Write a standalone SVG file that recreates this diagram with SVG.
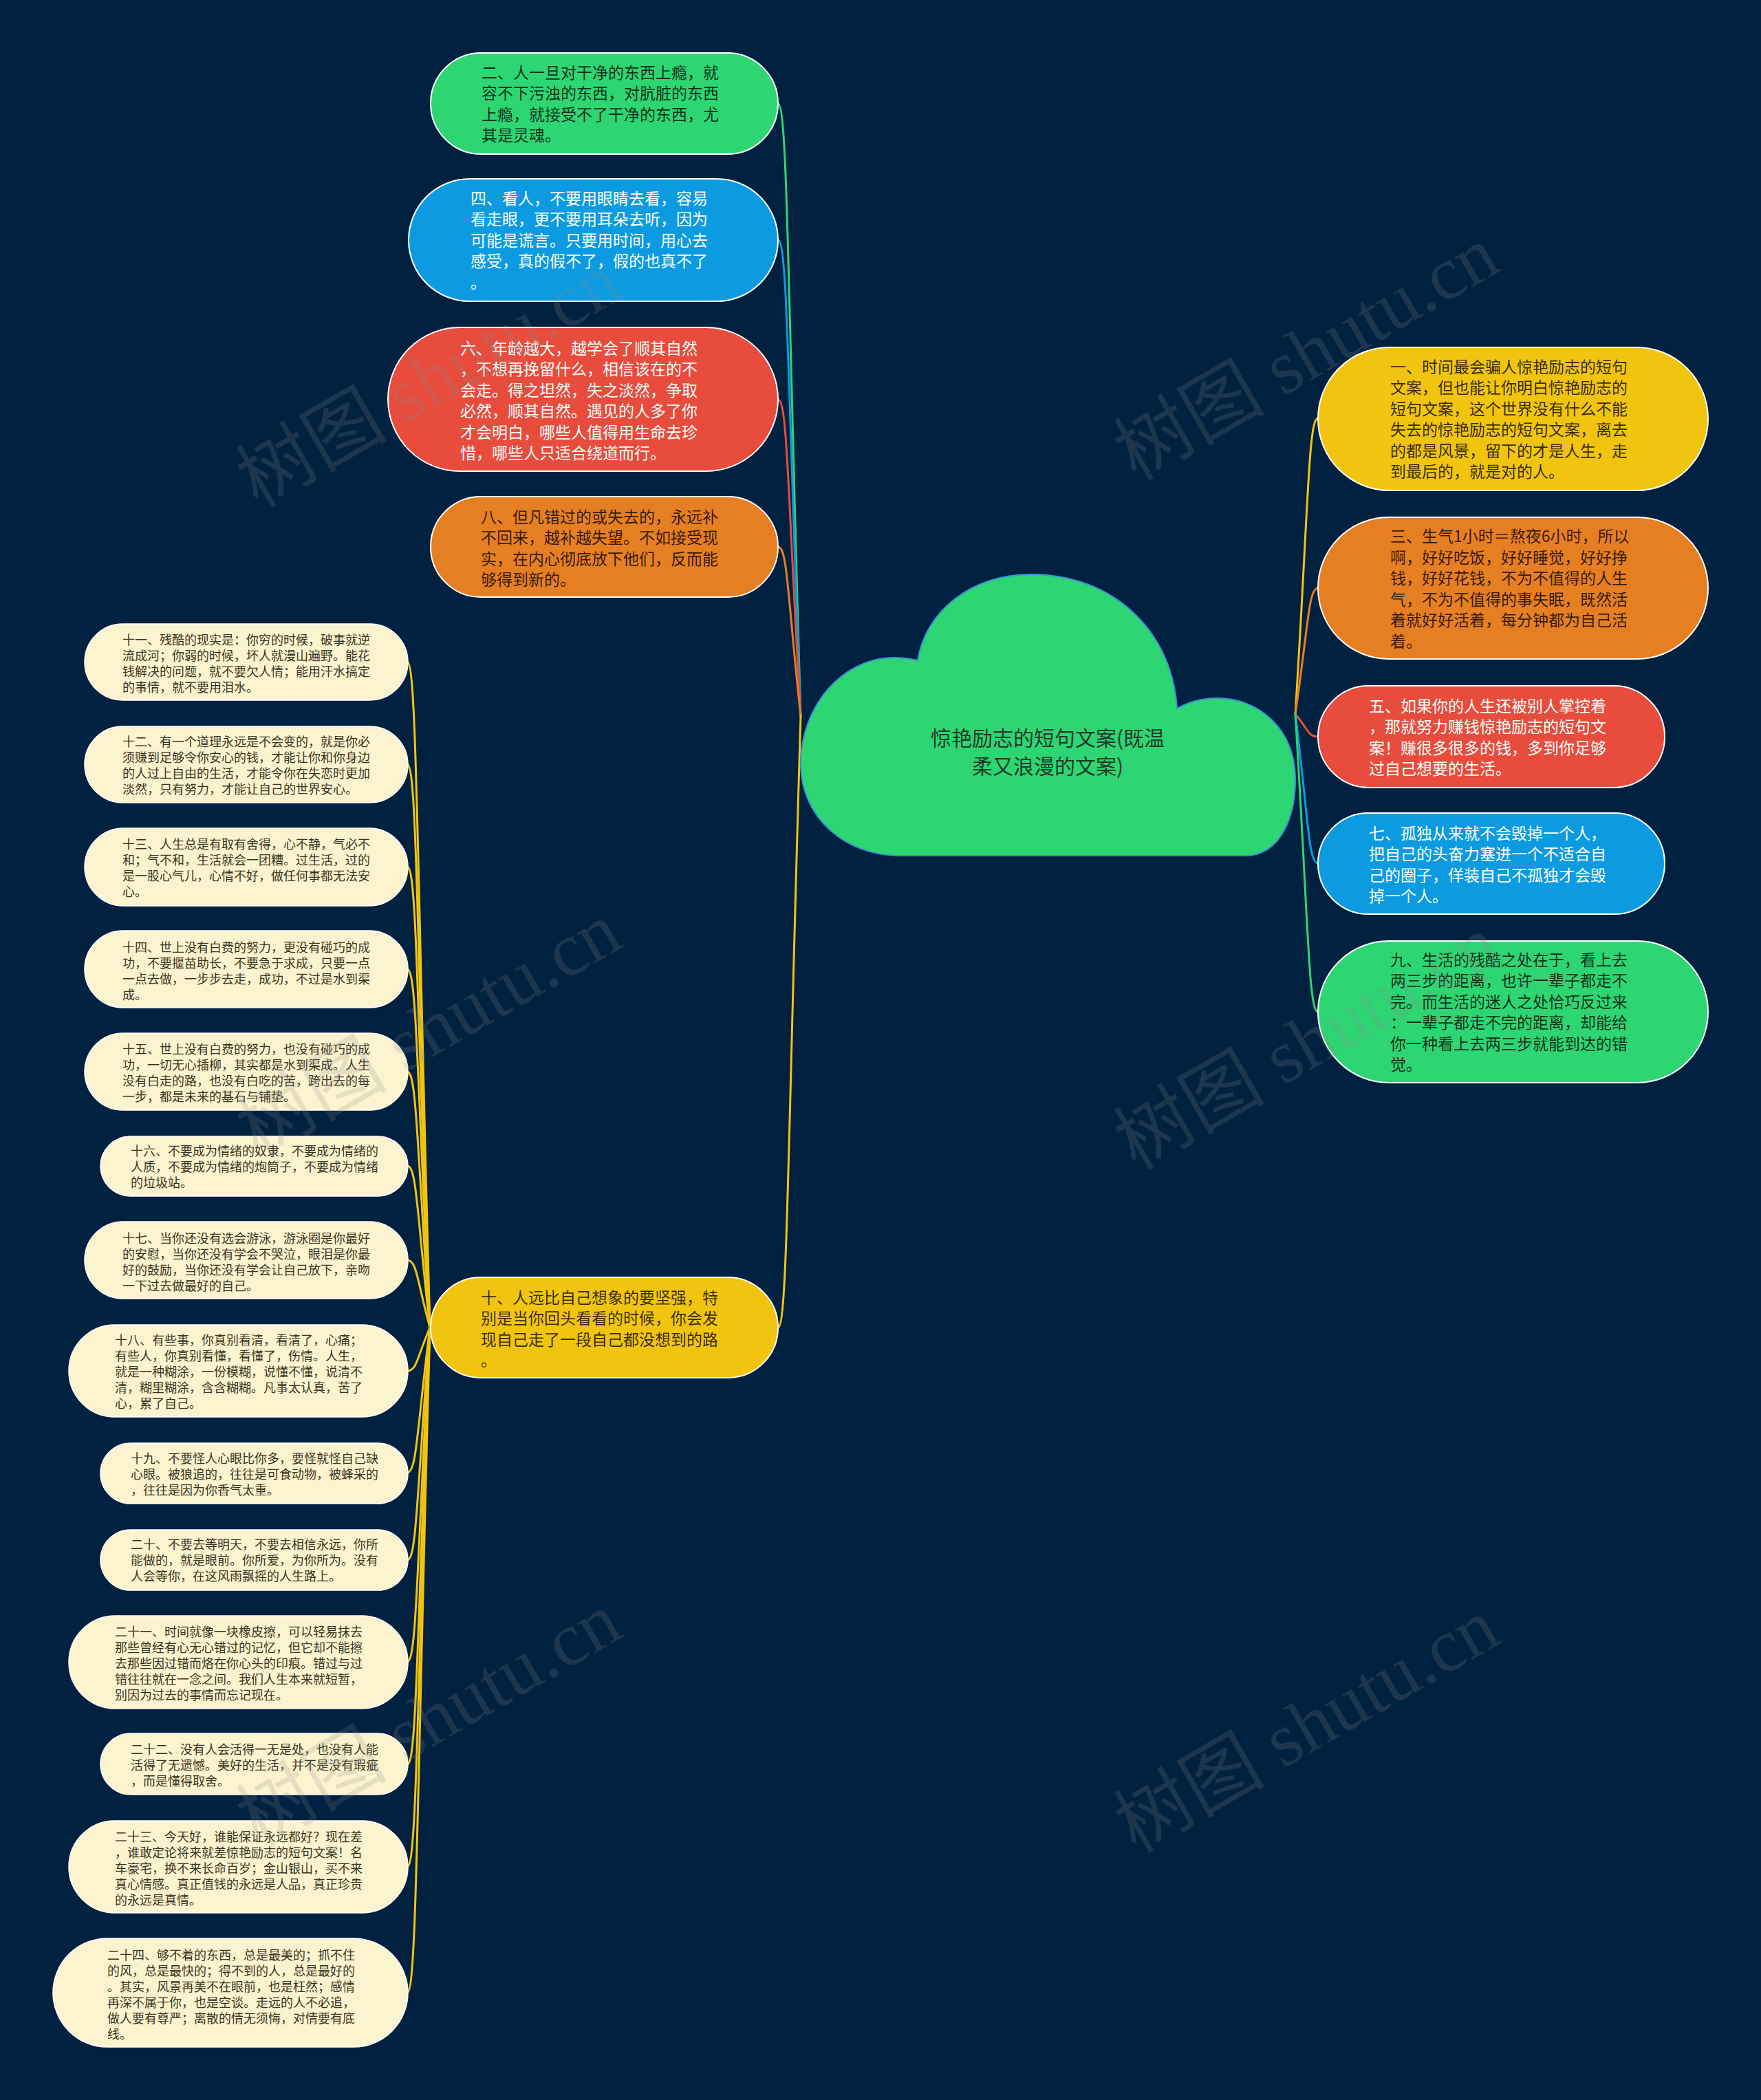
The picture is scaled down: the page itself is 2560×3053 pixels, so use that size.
<svg xmlns="http://www.w3.org/2000/svg" width="2560" height="3053" viewBox="0 0 2560 3053">
<style>
text{font-family:"Noto Sans CJK SC","Noto Sans",sans-serif}
.m{font-size:23px}
.s{font-size:18px;fill:#3b3420}
.dk{fill:#000;fill-opacity:.78}
.wt{fill:#fff}
.nb{stroke:#fff;stroke-width:2}
.cr{fill:#fcf3cf;stroke:#fff;stroke-width:1.5}
.c{fill:none;stroke-width:3;stroke-linecap:round}
.wm{font-family:"Liberation Serif","Noto Sans CJK SC",serif;font-size:110px;fill:#8a8a8a;fill-opacity:.2}
</style>
<rect x="0" y="0" width="2560" height="3053" fill="#012140"/>

<g id="connectors">
<path class="c" stroke="#2ed573" d="M1131,151 C1145,151 1145,418 1164,1041"/>
<path class="c" stroke="#0c9be0" d="M1131,349 C1145,349 1145,557 1164,1041"/>
<path class="c" stroke="#e74c3c" d="M1131,581 C1145,581 1145,719 1164,1041"/>
<path class="c" stroke="#e67e22" d="M1131,795 C1145,795 1145,869 1164,1041"/>
<path class="c" stroke="#f1c40f" d="M1131,1930 C1145,1930 1145,1663 1164,1041"/>
<path class="c" stroke="#f1c40f" d="M1916,608 C1902,608 1902,737 1883,1038"/>
<path class="c" stroke="#e67e22" d="M1916,855 C1902,855 1902,910 1883,1038"/>
<path class="c" stroke="#e74c3c" d="M1916,1071 C1902,1071 1902,1061 1883,1038"/>
<path class="c" stroke="#0c9be0" d="M1916,1255 C1902,1255 1902,1190 1883,1038"/>
<path class="c" stroke="#2ed573" d="M1916,1471 C1902,1471 1902,1341 1883,1038"/>
<g stroke="#f1c40f">
<path class="c" d="M592,962 C606,962 606,1252 625,1930"/>
<path class="c" d="M592,1111 C606,1111 606,1357 625,1930"/>
<path class="c" d="M592,1260 C606,1260 606,1461 625,1930"/>
<path class="c" d="M592,1409 C606,1409 606,1565 625,1930"/>
<path class="c" d="M592,1558 C606,1558 606,1670 625,1930"/>
<path class="c" d="M592,1695 C606,1695 606,1765 625,1930"/>
<path class="c" d="M592,1832 C606,1832 606,1861 625,1930"/>
<path class="c" d="M592,1993 C606,1993 606,1974 625,1930"/>
<path class="c" d="M592,2141 C606,2141 606,2078 625,1930"/>
<path class="c" d="M592,2268 C606,2268 606,2167 625,1930"/>
<path class="c" d="M592,2416 C606,2416 606,2270 625,1930"/>
<path class="c" d="M592,2565 C606,2565 606,2375 625,1930"/>
<path class="c" d="M592,2714 C606,2714 606,2479 625,1930"/>
<path class="c" d="M592,2897 C606,2897 606,2607 625,1930"/>
</g>
</g>

<g id="root">
<path fill="#2ed573" stroke="#3a8fd8" stroke-width="2" d="M1308,1244 L1810,1244 C1860,1244 1884,1190 1883,1130 C1882,1060 1830,1015 1770,1015 C1745,1015 1725,1022 1711,1030 C1705,920 1620,835 1500,835 C1410,835 1345,890 1334,960 C1320,957 1310,956 1300,956 C1222,956 1164,1030 1164,1110 C1164,1190 1230,1244 1308,1244 Z"/>
<text font-size="30" fill="#1d3b28" text-anchor="middle"><tspan x="1523" y="1084">惊艳励志的短句文案(既温</tspan><tspan x="1523" y="1125">柔又浪漫的文案)</tspan></text>
</g>

<g id="n2">
<rect class="nb" x="626" y="77" width="505" height="147" rx="73.5" fill="#2ed573"/>
<text class="m dk"><tspan x="700" y="113.5">二、人一旦对干净的东西上瘾，就</tspan><tspan x="700" y="144">容不下污浊的东西，对肮脏的东西</tspan><tspan x="700" y="174.5">上瘾，就接受不了干净的东西，尤</tspan><tspan x="700" y="205">其是灵魂。</tspan></text>
</g>
<g id="n4">
<rect class="nb" x="594" y="260" width="537" height="178" rx="89" fill="#0c9be0"/>
<text class="m wt"><tspan x="684" y="296.5">四、看人，不要用眼睛去看，容易</tspan><tspan x="684" y="327">看走眼，更不要用耳朵去听，因为</tspan><tspan x="684" y="357.5">可能是谎言。只要用时间，用心去</tspan><tspan x="684" y="388">感受，真的假不了，假的也真不了</tspan><tspan x="684" y="418.5">。</tspan></text>
</g>
<g id="n6">
<rect class="nb" x="564" y="476" width="567" height="209" rx="104.5" fill="#e74c3c"/>
<text class="m wt"><tspan x="669" y="514.5">六、年龄越大，越学会了顺其自然</tspan><tspan x="669" y="545">，不想再挽留什么，相信该在的不</tspan><tspan x="669" y="575.5">会走。得之坦然，失之淡然，争取</tspan><tspan x="669" y="606">必然，顺其自然。遇见的人多了你</tspan><tspan x="669" y="636.5">才会明白，哪些人值得用生命去珍</tspan><tspan x="669" y="667">惜，哪些人只适合绕道而行。</tspan></text>
</g>
<g id="n8">
<rect class="nb" x="626" y="722" width="505" height="146" rx="73" fill="#e67e22"/>
<text class="m dk"><tspan x="699" y="759.5">八、但凡错过的或失去的，永远补</tspan><tspan x="699" y="790">不回来，越补越失望。不如接受现</tspan><tspan x="699" y="820.5">实，在内心彻底放下他们，反而能</tspan><tspan x="699" y="851">够得到新的。</tspan></text>
</g>
<g id="n10">
<rect class="nb" x="626" y="1857" width="505" height="146" rx="73" fill="#f1c40f"/>
<text class="m dk"><tspan x="699" y="1894.5">十、人远比自己想象的要坚强，特</tspan><tspan x="699" y="1925">别是当你回头看看的时候，你会发</tspan><tspan x="699" y="1955.5">现自己走了一段自己都没想到的路</tspan><tspan x="699" y="1986">。</tspan></text>
</g>
<g id="n1">
<rect class="nb" x="1916" y="505" width="567" height="208" rx="104" fill="#f1c40f"/>
<text class="m dk"><tspan x="2021" y="541.5">一、时间最会骗人惊艳励志的短句</tspan><tspan x="2021" y="572">文案，但也能让你明白惊艳励志的</tspan><tspan x="2021" y="602.5">短句文案，这个世界没有什么不能</tspan><tspan x="2021" y="633">失去的惊艳励志的短句文案，离去</tspan><tspan x="2021" y="663.5">的都是风景，留下的才是人生，走</tspan><tspan x="2021" y="694">到最后的，就是对的人。</tspan></text>
</g>
<g id="n3">
<rect class="nb" x="1916" y="752" width="567" height="206" rx="103" fill="#e67e22"/>
<text class="m dk"><tspan x="2021" y="788">三、生气1小时＝熬夜6小时，所以</tspan><tspan x="2021" y="818.5">啊，好好吃饭，好好睡觉，好好挣</tspan><tspan x="2021" y="849">钱，好好花钱，不为不值得的人生</tspan><tspan x="2021" y="879.5">气，不为不值得的事失眠，既然活</tspan><tspan x="2021" y="910">着就好好活着，每分钟都为自己活</tspan><tspan x="2021" y="940.5">着。</tspan></text>
</g>
<g id="n5">
<rect class="nb" x="1916" y="997" width="504" height="148" rx="74" fill="#e74c3c"/>
<text class="m wt"><tspan x="1990" y="1034.5">五、如果你的人生还被别人掌控着</tspan><tspan x="1990" y="1065">，那就努力赚钱惊艳励志的短句文</tspan><tspan x="1990" y="1095.5">案！赚很多很多的钱，多到你足够</tspan><tspan x="1990" y="1126">过自己想要的生活。</tspan></text>
</g>
<g id="n7">
<rect class="nb" x="1916" y="1182" width="504" height="147" rx="73.5" fill="#0c9be0"/>
<text class="m wt"><tspan x="1990" y="1219.5">七、孤独从来就不会毁掉一个人，</tspan><tspan x="1990" y="1250">把自己的头奋力塞进一个不适合自</tspan><tspan x="1990" y="1280.5">己的圈子，佯装自己不孤独才会毁</tspan><tspan x="1990" y="1311">掉一个人。</tspan></text>
</g>
<g id="n9">
<rect class="nb" x="1916" y="1368" width="567" height="206" rx="103" fill="#2ed573"/>
<text class="m dk"><tspan x="2021" y="1403.5">九、生活的残酷之处在于，看上去</tspan><tspan x="2021" y="1434">两三步的距离，也许一辈子都走不</tspan><tspan x="2021" y="1464.5">完。而生活的迷人之处恰巧反过来</tspan><tspan x="2021" y="1495">：一辈子都走不完的距离，却能给</tspan><tspan x="2021" y="1525.5">你一种看上去两三步就能到达的错</tspan><tspan x="2021" y="1556">觉。</tspan></text>
</g>

<g id="n11">
<rect class="cr" x="123" y="907" width="470" height="111" rx="55.5"/>
<text class="s"><tspan x="178" y="937">十一、残酷的现实是：你穷的时候，破事就逆</tspan><tspan x="178" y="960">流成河；你弱的时候，坏人就漫山遍野。能花</tspan><tspan x="178" y="983">钱解决的问题，就不要欠人情；能用汗水搞定</tspan><tspan x="178" y="1006">的事情，就不要用泪水。</tspan></text>
</g>
<g id="n12">
<rect class="cr" x="123" y="1056" width="470" height="111" rx="55.5"/>
<text class="s"><tspan x="178" y="1085">十二、有一个道理永远是不会变的，就是你必</tspan><tspan x="178" y="1108">须赚到足够令你安心的钱，才能让你和你身边</tspan><tspan x="178" y="1131">的人过上自由的生活，才能令你在失恋时更加</tspan><tspan x="178" y="1154">淡然，只有努力，才能让自己的世界安心。</tspan></text>
</g>
<g id="n13">
<rect class="cr" x="123" y="1204" width="470" height="113" rx="56.5"/>
<text class="s"><tspan x="178" y="1234">十三、人生总是有取有舍得，心不静，气必不</tspan><tspan x="178" y="1257">和；气不和，生活就会一团糟。过生活，过的</tspan><tspan x="178" y="1280">是一股心气儿，心情不好，做任何事都无法安</tspan><tspan x="178" y="1303">心。</tspan></text>
</g>
<g id="n14">
<rect class="cr" x="123" y="1353" width="470" height="112" rx="56"/>
<text class="s"><tspan x="178" y="1384">十四、世上没有白费的努力，更没有碰巧的成</tspan><tspan x="178" y="1407">功，不要揠苗助长，不要急于求成，只要一点</tspan><tspan x="178" y="1430">一点去做，一步步去走，成功，不过是水到渠</tspan><tspan x="178" y="1453">成。</tspan></text>
</g>
<g id="n15">
<rect class="cr" x="123" y="1502" width="470" height="112" rx="56"/>
<text class="s"><tspan x="178" y="1532">十五、世上没有白费的努力，也没有碰巧的成</tspan><tspan x="178" y="1555">功，一切无心插柳，其实都是水到渠成。人生</tspan><tspan x="178" y="1578">没有白走的路，也没有白吃的苦，跨出去的每</tspan><tspan x="178" y="1601">一步，都是未来的基石与铺垫。</tspan></text>
</g>
<g id="n16">
<rect class="cr" x="146" y="1652" width="447" height="87" rx="43.5"/>
<text class="s"><tspan x="190" y="1680">十六、不要成为情绪的奴隶，不要成为情绪的</tspan><tspan x="190" y="1703">人质，不要成为情绪的炮筒子，不要成为情绪</tspan><tspan x="190" y="1726">的垃圾站。</tspan></text>
</g>
<g id="n17">
<rect class="cr" x="123" y="1776" width="470" height="112" rx="56"/>
<text class="s"><tspan x="178" y="1807">十七、当你还没有选会游泳，游泳圈是你最好</tspan><tspan x="178" y="1830">的安慰，当你还没有学会不哭泣，眼泪是你最</tspan><tspan x="178" y="1853">好的鼓励，当你还没有学会让自己放下，亲吻</tspan><tspan x="178" y="1876">一下过去做最好的自己。</tspan></text>
</g>
<g id="n18">
<rect class="cr" x="100" y="1926" width="493" height="134" rx="67"/>
<text class="s"><tspan x="167" y="1955">十八、有些事，你真别看清，看清了，心痛；</tspan><tspan x="167" y="1978">有些人，你真别看懂，看懂了，伤情。人生，</tspan><tspan x="167" y="2001">就是一种糊涂，一份模糊，说懂不懂，说清不</tspan><tspan x="167" y="2024">清，糊里糊涂，含含糊糊。凡事太认真，苦了</tspan><tspan x="167" y="2047">心，累了自己。</tspan></text>
</g>
<g id="n19">
<rect class="cr" x="146" y="2098" width="447" height="88" rx="44"/>
<text class="s"><tspan x="190" y="2127">十九、不要怪人心眼比你多，要怪就怪自己缺</tspan><tspan x="190" y="2150">心眼。被狼追的，往往是可食动物，被蜂采的</tspan><tspan x="190" y="2173">，往往是因为你香气太重。</tspan></text>
</g>
<g id="n20">
<rect class="cr" x="146" y="2224" width="447" height="88" rx="44"/>
<text class="s"><tspan x="190" y="2252">二十、不要去等明天，不要去相信永远，你所</tspan><tspan x="190" y="2275">能做的，就是眼前。你所爱，为你所为。没有</tspan><tspan x="190" y="2298">人会等你，在这风雨飘摇的人生路上。</tspan></text>
</g>
<g id="n21">
<rect class="cr" x="100" y="2349" width="493" height="135" rx="67.5"/>
<text class="s"><tspan x="167" y="2379">二十一、时间就像一块橡皮擦，可以轻易抹去</tspan><tspan x="167" y="2402">那些曾经有心无心错过的记忆，但它却不能擦</tspan><tspan x="167" y="2425">去那些因过错而烙在你心头的印痕。错过与过</tspan><tspan x="167" y="2448">错往往就在一念之间。我们人生本来就短暂，</tspan><tspan x="167" y="2471">别因为过去的事情而忘记现在。</tspan></text>
</g>
<g id="n22">
<rect class="cr" x="146" y="2520" width="447" height="89" rx="44.5"/>
<text class="s"><tspan x="190" y="2550">二十二、没有人会活得一无是处，也没有人能</tspan><tspan x="190" y="2573">活得了无遗憾。美好的生活，并不是没有瑕疵</tspan><tspan x="190" y="2596">，而是懂得取舍。</tspan></text>
</g>
<g id="n23">
<rect class="cr" x="100" y="2647" width="493" height="134" rx="67"/>
<text class="s"><tspan x="167" y="2677">二十三、今天好，谁能保证永远都好？现在差</tspan><tspan x="167" y="2700">，谁敢定论将来就差惊艳励志的短句文案！名</tspan><tspan x="167" y="2723">车豪宅，换不来长命百岁；金山银山，买不来</tspan><tspan x="167" y="2746">真心情感。真正值钱的永远是人品，真正珍贵</tspan><tspan x="167" y="2769">的永远是真情。</tspan></text>
</g>
<g id="n24">
<rect class="cr" x="77" y="2818" width="516" height="158" rx="79"/>
<text class="s"><tspan x="156" y="2849">二十四、够不着的东西，总是最美的；抓不住</tspan><tspan x="156" y="2872">的风，总是最快的；得不到的人，总是最好的</tspan><tspan x="156" y="2895">。其实，风景再美不在眼前，也是枉然；感情</tspan><tspan x="156" y="2918">再深不属于你，也是空谈。走远的人不必追，</tspan><tspan x="156" y="2941">做人要有尊严；离散的情无须悔，对情要有底</tspan><tspan x="156" y="2964">线。</tspan></text>
</g>

<g id="watermarks">
<text class="wm" text-anchor="middle" transform="translate(642,585) rotate(-30)">树图 shutu.cn</text>
<text class="wm" text-anchor="middle" transform="translate(1918,546) rotate(-30)">树图 shutu.cn</text>
<text class="wm" text-anchor="middle" transform="translate(642,1529) rotate(-30)">树图 shutu.cn</text>
<text class="wm" text-anchor="middle" transform="translate(1918,1548) rotate(-30)">树图 shutu.cn</text>
<text class="wm" text-anchor="middle" transform="translate(642,2532) rotate(-30)">树图 shutu.cn</text>
<text class="wm" text-anchor="middle" transform="translate(1918,2541) rotate(-30)">树图 shutu.cn</text>
</g>
</svg>
